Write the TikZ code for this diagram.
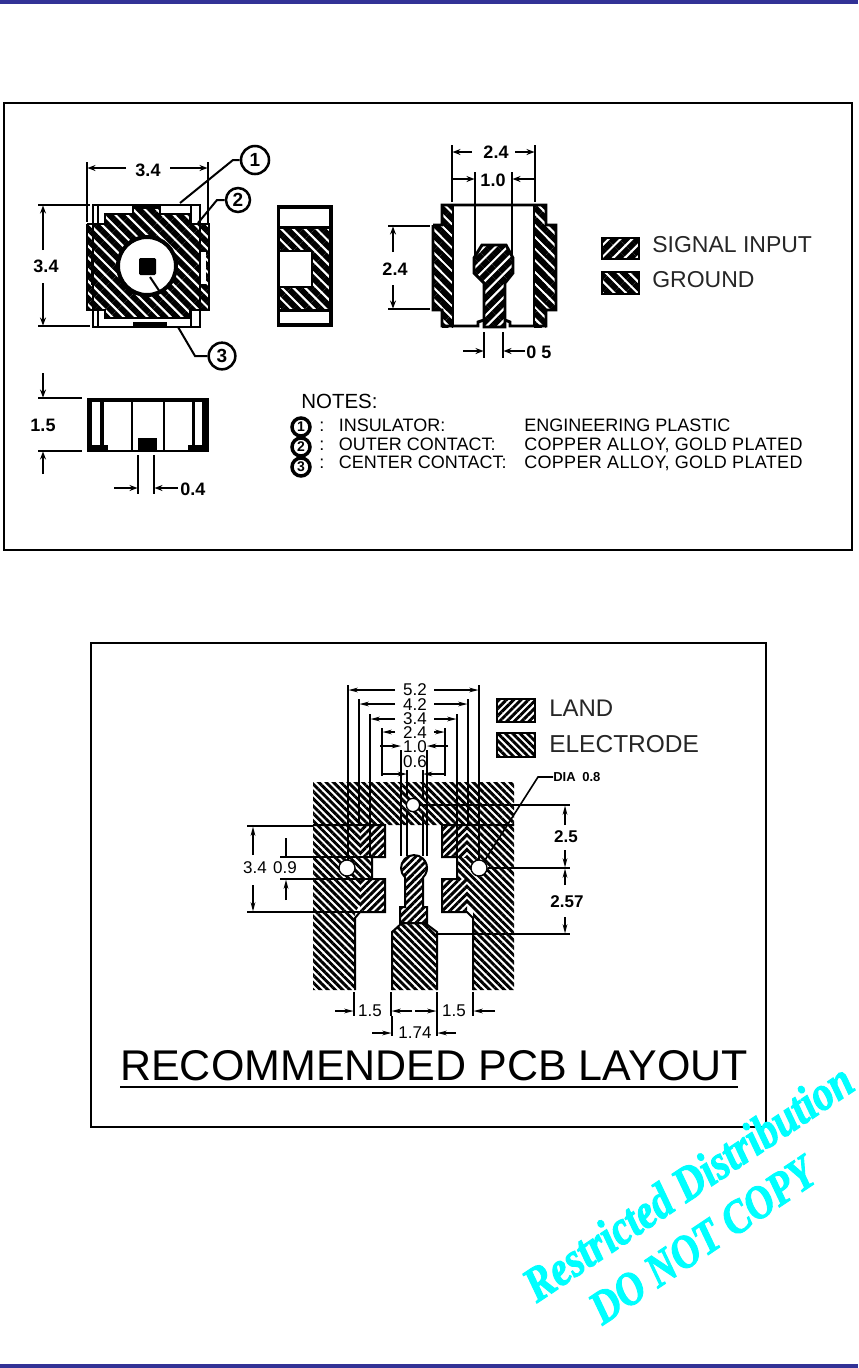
\documentclass[tikz,border=0pt]{standalone}
\usepackage{fontspec}
\setmainfont{Liberation Sans}
\newfontfamily\wmfont[FakeStretch=0.84,FakeBold=2]{Liberation Serif}
\usetikzlibrary{patterns.meta,arrows.meta}
\definecolor{barblue}{RGB}{50,50,150}
\definecolor{wmcyan}{RGB}{0,255,255}
\newcommand{\fs}[1]{\fontsize{\dimexpr #1pt*3/4\relax}{\dimexpr #1pt\relax}\selectfont}
\tikzset{
 x=0.75pt,y=-0.75pt,
 frame/.style={draw=black,line width=2.2pt,fill=white},
 gndA/.style={pattern={Lines[angle=-45,distance=6.2pt,line width=4.4pt]},pattern color=black},
 sigA/.style={pattern={Lines[angle=45,distance=6.2pt,line width=4.4pt]},pattern color=black},
 gndB/.style={pattern={Lines[angle=-45,distance=3.9pt,line width=2.2pt]},pattern color=black},
 sigB/.style={pattern={Lines[angle=45,distance=3.9pt,line width=2.2pt]},pattern color=black},
 heavy/.style={line width=2.2pt,draw=black},
 med/.style={line width=1.5pt,draw=black},
 thin1/.style={line width=0.9pt,draw=black},
 dimA/.style={line width=1.7pt,draw=black,-{Stealth[length=6pt,width=4.5pt]}},
 dimB/.style={line width=1pt,draw=black,-{Stealth[length=7pt,width=3.5pt]}},
 lblA/.style={font=\fs{18}\bfseries,inner sep=0pt},
 lblB/.style={font=\fs{17},inner sep=0pt},
 legA/.style={font=\fs{24},inner sep=0pt,anchor=west,text=black!85},
 note/.style={font=\fs{18},inner sep=0pt,anchor=base west},
 callout/.style={circle,draw=black,line width=1.9pt,fill=white,inner sep=0pt,font=\fs{19}\bfseries},
 smallcall/.style={circle,draw=black,line width=2.6pt,fill=white,inner sep=0pt,font=\fs{14}\bfseries,minimum size=13.5pt},
 wm/.style={text=wmcyan,inner sep=0pt,rotate=33.8,anchor=base},
}
\begin{document}
\begin{tikzpicture}
\useasboundingbox (0,0) rectangle (858,1368);
\fill[white] (0,0) rectangle (858,1368);
% page bars
\fill[barblue] (0,0) rectangle (858,4);
\fill[barblue] (0,1364) rectangle (858,1368);
% frames
\draw[frame] (4,103) rectangle (852,550);
\draw[frame] (91,643) rectangle (766,1127);

%%%% FRONT VIEW
\draw[heavy] (93,205) rectangle (200,327);
\draw[heavy] (98,205) -- (98,224) (191,205) -- (191,224);
\draw[heavy] (98,310) -- (98,327) (191,310) -- (191,327);
\path[gndA] (87,224) -- (105,224) -- (105,214) -- (133,214) -- (133,205) -- (160,205) -- (160,214) -- (190,214) -- (190,224) -- (209,224) -- (209,310) -- (190,310) -- (190,318) -- (105,318) -- (105,310) -- (87,310) -- cycle;
\draw[heavy] (87,224) -- (105,224) -- (105,214) -- (133,214) -- (133,205) (160,205) -- (160,214) -- (190,214) -- (190,224) -- (209,224) -- (209,310) -- (190,310) -- (190,318) -- (105,318) -- (105,310) -- (87,310) -- (87,224);
\fill (133,205) rectangle (160,209);
\fill (133,322) rectangle (167,327);
\draw[line width=1.5pt] (92,252) -- (92,285);
\fill[white] (201,252) rectangle (206,284);
\draw[draw=black,fill=white,line width=3pt] (147,266) circle (29);
\fill[rounded corners=1pt] (139,258) rectangle (156,275);
%
\node[callout,minimum size=21pt] (c1) at (255,160) {1};
\node[callout,minimum size=18pt] (c2) at (238,200) {2};
\node[callout,minimum size=20pt] (c3) at (222,356) {3};
\coordinate (c1t) at (180,203);
\coordinate (c2t) at (198,223);
\coordinate (c3t) at (150,277);
\draw[med] (c1t) -- (233,160) -- (c1);
\draw[med] (c2t) -- (217,200) -- (c2);
\draw[med] (c3t) -- (160,292);
\draw[med] (178,327) -- (195,356) -- (c3);
% dims 3.4
\draw[line width=1.7pt] (87,162) -- (87,222) (208,162) -- (208,224);
\node[lblA] (d1) at (148,170) {3.4};
\draw[dimA] (126,168) -- (87.5,168);
\draw[dimA] (170,168) -- (207.5,168);
\draw[line width=1.7pt] (38,205) -- (90,205) (38,326) -- (90,326);
\node[lblA] (d2) at (46,266) {3.4};
\draw[dimA] (43,250) -- (43,205.5);
\draw[dimA] (43,283) -- (43,325.5);

%%%% SIDE VIEW
\fill[black] (277,205) rectangle (333,327);
\fill[white] (280,209) rectangle (329,226);
\fill[white] (280,312) rectangle (329,323);
\fill[white] (280,227) rectangle (329,310);
\path[gndA] (280,227) -- (329,227) -- (329,310) -- (280,310) -- (280,287) -- (312,287) -- (312,251) -- (280,251) -- cycle;
\fill[black] (277,226) rectangle (329,229);
\fill[black] (277,249.5) rectangle (312,251.5);
\fill[black] (277,286) rectangle (312,288);
\fill[black] (277,309) rectangle (333,312);
\fill[black] (311,251) rectangle (313,288);

%%%% TOP RIGHT VIEW
\path[gndA] (442,205) rectangle (453,327);
\path[gndA] (534,205) rectangle (546,327);
\path[gndA] (433,225) rectangle (453,310);
\path[gndA] (534,225) rectangle (556,310);
\draw[heavy] (433,225) -- (442,225) -- (442,205) -- (546,205) -- (546,225) -- (556,225) -- (556,310) -- (546,310) -- (546,326) -- (510,326) -- (510,322) -- (505,320)  (484,320) -- (478,322) -- (478,326) -- (442,326) -- (442,310) -- (433,310) -- (433,225);
\draw[line width=2.2pt] (453,205) -- (453,326) (534,205) -- (534,326);
\path[sigA] (482,245) -- (506,245) -- (513,258) -- (513,273) -- (505,283) -- (505,327) -- (484,327) -- (484,283) -- (474,273) -- (474,258) -- cycle;
\draw[heavy] (482,245) -- (506,245) -- (513,258) -- (513,273) -- (505,283) -- (505,327) -- (484,327) -- (484,283) -- (474,273) -- (474,258) -- cycle;
\draw[med] (475,172) -- (475,256) (512,172) -- (512,256);
\draw[line width=1.7pt] (452,145) -- (452,202) (535,145) -- (535,202);
\node[lblA] (d3) at (496,152) {2.4};
\draw[dimA] (472,152) -- (452.5,152);
\draw[dimA] (515,152) -- (534.5,152);
\node[lblA] (d4) at (493,180) {1.0};
\draw[dimA] (452,179) -- (474.5,179);
\draw[dimA] (535,179) -- (512.5,179);
\draw[line width=1.7pt] (388,226) -- (430,226) (388,309) -- (430,309);
\node[lblA] (d5) at (395,269) {2.4};
\draw[dimA] (393,252) -- (393,226.5);
\draw[dimA] (393,285) -- (393,308.5);
\draw[line width=1.7pt] (484,332) -- (484,358) (503,332) -- (503,358);
\draw[dimA] (463,351) -- (483.5,351);
\draw[dimA] (525,351) -- (503.5,351);
\node[lblA,anchor=west] (d6) at (526,352) {0 5};

%%%% LEGEND 1
\path[sigA,draw=black,line width=1.5pt] (602,238) rectangle (639,259);
\path[gndA,draw=black,line width=1.5pt] (602,272) rectangle (639,294);
\node[legA,font=\fs{23}] (l1) at (652,245) {SIGNAL INPUT};
\node[legA,font=\fs{23}] (l2) at (652,280) {GROUND};

%%%% BOTTOM VIEW
\fill (87,398) rectangle (209,452);
\fill[white] (104,402) rectangle (202,450);
\fill[white] (92,402) rectangle (100,445);
\fill[white] (195,402) rectangle (202,445);
\fill (100,402) rectangle (104,450);
\fill (192,402) rectangle (195,450);
\fill (92,445) rectangle (108,452);
\fill (188,445) rectangle (202,452);
\draw[line width=1.5pt] (132,402) -- (132,450);
\draw[line width=2.2pt] (164,402) -- (164,450);
\fill (138,438) rectangle (157,452);
\draw[line width=1.7pt] (38,398) -- (82,398) (38,451) -- (82,451);
\node[lblA] (d7) at (43,425) {1.5};
\draw[dimA] (43,373) -- (43,397.5);
\draw[dimA] (43,474) -- (43,451.5);
\draw[line width=1.7pt] (138,455) -- (138,494) (154,455) -- (154,494);
\draw[dimA] (114,488) -- (137.5,488);
\draw[dimA] (178,488) -- (154.5,488);
\node[lblA,anchor=west] (d8) at (180,489) {0.4};

%%%% NOTES
\node[note,font=\fs{20.5}] (n0) at (301,408) {NOTES:};
\node[smallcall] (m1) at (301,427) {1};
\node[smallcall] (m2) at (301,447) {2};
\node[smallcall] (m3) at (301,467) {3};
\node[note] (n1) at (319,431) {:\hspace{6pt} INSULATOR:};
\node[note] (n2) at (319,450) {:\hspace{6pt} OUTER CONTACT:};
\node[note] (n3) at (319,468) {:\hspace{6pt} CENTER CONTACT:};
\node[note] (n4) at (524,431) {ENGINEERING PLASTIC};
\node[note] (n5) at (524,450) {\addfontfeature{LetterSpace=1.8}COPPER ALLOY, GOLD PLATED};
\node[note] (n6) at (524,468) {\addfontfeature{LetterSpace=1.8}COPPER ALLOY, GOLD PLATED};

%%%% PCB LAYOUT
% electrodes
\path[gndB] (313,782) -- (514,782) -- (514,990) -- (473,990) -- (473,912) -- (467,905) -- (467,879) -- (457,879) -- (457,857) -- (467,857) -- (467,825) -- (360,825) -- (360,857) -- (372,857) -- (372,879) -- (360,879) -- (360,905) -- (355,912) -- (355,990) -- (313,990) -- cycle;
\path[gndB] (402,923) -- (425,923) -- (437,932) -- (437,990) -- (392,990) -- (392,932) -- cycle;
% lands
\path[sigB] (360,825) rectangle (385,857);
\path[sigB] (442,825) rectangle (467,857);
\path[sigB] (360,879) rectangle (385,912);
\path[sigB] (442,879) rectangle (467,912);
\path[sigB] (414,868) circle (13);
\path[sigB] (405,875) rectangle (423,907);
\path[sigB] (400,907) rectangle (427,923);
% outlines
\draw[med] (313,825) -- (385,825) -- (385,857) -- (372,857) -- (372,879) -- (385,879) -- (385,912) -- (360,912) -- (355,918) -- (355,990);
\draw[med] (514,825) -- (442,825) -- (442,857) -- (457,857) -- (457,879) -- (442,879) -- (442,912) -- (467,912) -- (473,918) -- (473,990);
\draw[heavy] (313,857) -- (372,857) (313,879) -- (372,879);
\draw[thin1] (313,912) -- (360,912);
\draw[med] (392,990) -- (392,932) -- (402,923) -- (425,923) -- (437,932) -- (437,990);
\draw[med] (400,923) -- (400,907) -- (405,907) -- (405,877.4) arc[start angle=134,end angle=406,radius=13] -- (423,907) -- (427,907) -- (427,923) -- cycle;
% holes
\node[circle,draw=black,line width=1pt,fill=white,minimum size=12pt,inner sep=0pt] (hl) at (347,868) {};
\node[circle,draw=black,line width=1pt,fill=white,minimum size=12pt,inner sep=0pt] (hr) at (479,868) {};
\node[circle,draw=black,line width=1pt,fill=white,minimum size=10pt,inner sep=0pt] (ht) at (413,805) {};
% extension lines
\draw[thin1] (348,685) -- (348,860) (479,685) -- (479,860);
\draw[thin1] (359,699) -- (359,825) (468,699) -- (468,825);
\draw[thin1,line width=1.3pt] (370,714) -- (370,857) (457,714) -- (457,857);
\draw[thin1] (382,728) -- (382,776) (445,728) -- (445,776);
\draw[thin1] (401,750) -- (401,856) (427,750) -- (427,856);
\draw[line width=1.5pt] (407,770) -- (407,798) (407,812) -- (407,856) (423,770) -- (423,798) (423,812) -- (423,856);
% dims top
\node[lblB] (p1) at (415,690) {5.2};
\node[lblB] (p2) at (415,705) {4.2};
\node[lblB] (p3) at (415,719) {3.4};
\node[lblB] (p4) at (415,733) {2.4};
\node[lblB] (p5) at (415,747) {1.0};
\node[lblB] (p6) at (415,762) {0.6};
\draw[dimB] (395,690) -- (348.5,690);
\draw[dimB] (434,690) -- (478.5,690);
\draw[dimB] (395,704) -- (359.5,704);
\draw[dimB] (434,704) -- (467.5,704);
\draw[dimB] (395,719) -- (370.5,719);
\draw[dimB] (434,719) -- (456.5,719);
\draw[dimB] (395,732) -- (382.5,732);
\draw[dimB] (434,732) -- (444.5,732);
\draw[dimB] (380,746) -- (401,746);
\draw[dimB] (448,746) -- (427,746);
\draw[dimB] (382,774) -- (407,774);
\draw[dimB] (445,774) -- (423,774);
% right dims
\draw[thin1] (ht) -- (570,805);
\draw[med,line width=1.8pt] (hr) -- (570,868);
\draw[thin1] (437,934) -- (570,934);
\node[lblB,font=\fs{17}\bfseries] (p7) at (566,837) {2.5};
\node[lblB,font=\fs{17}\bfseries] (p8) at (567,902) {2.57};
\draw[dimB] (565,825) -- (565,805.5);
\draw[dimB] (565,850) -- (565,867.5);
\draw[dimB] (565,885) -- (565,868.5);
\draw[dimB] (565,917) -- (565,933.5);
% left dims
\draw[thin1] (247,826) -- (313,826) (247,912) -- (313,912);
\draw[med] (280,857) -- (313,857);
\draw[thin1] (280,879) -- (313,879);
\node[lblB] (p9) at (255,868) {3.4};
\node[lblB] (p10) at (285,868) {0.9};
\draw[dimB,line width=1.3pt] (253,855) -- (253,826.5);
\draw[dimB,line width=1.3pt] (253,885) -- (253,911.5);
\draw[line width=1.3pt] (286,838) -- (286,856);
\draw[dimB,line width=1.3pt] (286,900) -- (286,879.5);
% DIA
\node[font=\fs{13}\bfseries,inner sep=0pt,anchor=west] (dia) at (553,777) {DIA\hspace{5pt}0.8};
\coordinate (hrend) at (485,860);
\draw[thin1,line width=1.2pt] (hrend) -- (538,777) -- (dia);
% bottom dims
\draw[thin1,line width=1.2pt] (354,992) -- (354,1016) (391,992) -- (391,1016) (437,992) -- (437,1036) (473,992) -- (473,1016);
\draw[thin1,line width=1.2pt] (392,1016) -- (392,1036);
\node[lblB] (b1) at (370,1011) {1.5};
\node[lblB] (b2) at (454,1011) {1.5};
\node[lblB] (b3) at (415,1033) {1.74};
\draw[dimB] (335,1011) -- (353.5,1011);
\draw[dimB] (412,1011) -- (391.5,1011);
\draw[dimB] (415,1011) -- (436.5,1011);
\draw[dimB] (495,1011) -- (473.5,1011);
\draw[dimB] (372,1033) -- (391.5,1033);
\draw[dimB] (456,1033) -- (437.5,1033);
% legend 2
\path[sigB,draw=black,line width=1pt] (497,699) rectangle (535,722);
\path[gndB,draw=black,line width=1pt] (497,733) rectangle (535,757);
\node[legA] (l3) at (549,708) {LAND};
\node[legA,font=\fs{24.5}] (l4) at (549,744) {ELECTRODE};
% title
\node[font=\fs{43},inner sep=0pt,anchor=base west] (title) at (120,1080) {RECOMMENDED PCB LAYOUT};
\draw[line width=1.9pt] (120,1087) -- (738,1087);
% watermark
\node[wm,font=\wmfont\bfseries\itshape\fs{49}] (w1) at (697,1196) {Restricted Distribution};
\node[wm,font=\wmfont\bfseries\itshape\fs{47}] (w2) at (711,1253) {DO NOT COPY};
\end{tikzpicture}
\end{document}
